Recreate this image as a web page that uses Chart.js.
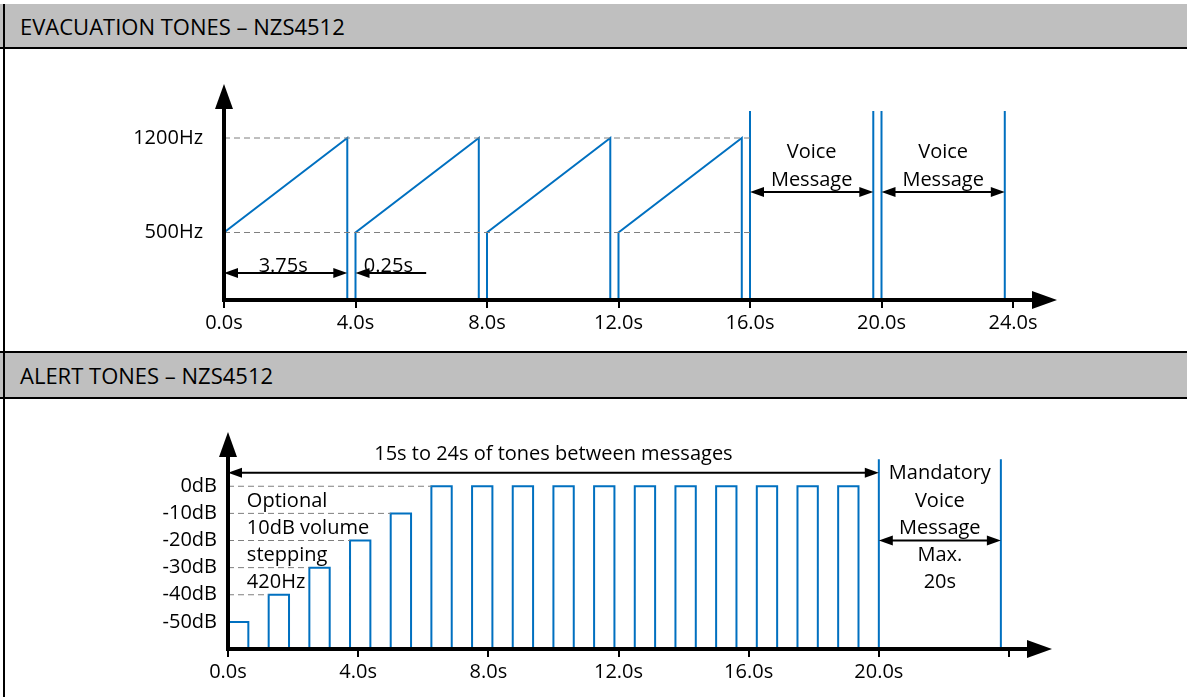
<!DOCTYPE html>
<html>
<head>
<meta charset="utf-8">
<script src="https://cdn.jsdelivr.net/npm/chart.js@4.4.1/dist/chart.umd.min.js"></script>
<style>
  body { margin: 0; background: #fff; font-family: "Open Sans", Lato, sans-serif; }
  #page { position: relative; width: 1187px; height: 697px; overflow: hidden; }
  .hdr { position: absolute; left: 0; width: 1187px; background: #bfbfbf; color: #000;
         font-size: 22px; padding-left: 20px; box-sizing: border-box; }
  .rule { position: absolute; left: 0; width: 1187px; height: 2px; background: #000; }
  .panel { position: absolute; left: 0; width: 1187px; }
  .panel canvas { display: block; }
  #leftBorder { position: absolute; left: 3px; top: 4px; width: 2px; height: 693px; background: #000; }
</style>
</head>
<body>
<div id="page">
  <div class="hdr" style="top:4px;height:43px;line-height:44px">EVACUATION TONES – NZS4512</div>
  <div class="rule" style="top:47px"></div>
  <div class="panel" style="top:49px;height:302px"><canvas id="evacChart" width="1187" height="302"></canvas></div>
  <div class="rule" style="top:351px"></div>
  <div class="hdr" style="top:353px;height:44px;line-height:45px">ALERT TONES – NZS4512</div>
  <div class="rule" style="top:397px"></div>
  <div class="panel" style="top:399px;height:298px"><canvas id="alertChart" width="1187" height="298"></canvas></div>
  <div id="leftBorder"></div>
</div>

<script>
const FONT = "'Open Sans', Lato, sans-serif";
const BLUE = "#0070c0";

// Evacuation tones: frequency sweep (Hz) against time (s)
const evacTimeTicks = [0, 4, 8, 12, 16, 20, 24];
const evacTimeLabels = ["0.0s", "4.0s", "8.0s", "12.0s", "16.0s", "20.0s", "24.0s"];
const evacFreqTicks = [500, 1200];
const evacFreqLabels = ["500Hz", "1200Hz"];
const sweepStart = [0, 4, 8, 12];
const sweepEnd = [3.75, 7.75, 11.75, 15.75];
const sweepLowHz = 500;
const sweepHighHz = 1200;
const evacGuideEnd = 16;
const evacVoiceLines = [16, 19.75, 20, 23.75];
const evacVoiceTopHz = 1400;

// Alert tones: stepped pulses (dB) against time (s)
const alertTimeTicks = [0, 4, 8, 12, 16, 20, 24];
const alertTimeLabels = ["0.0s", "4.0s", "8.0s", "12.0s", "16.0s", "20.0s", ""];
const alertLevelTicks = [0, -10, -20, -30, -40, -50];
const alertLevelLabels = ["0dB", "-10dB", "-20dB", "-30dB", "-40dB", "-50dB"];
const pulseStart = [0, 1.25, 2.5, 3.75, 5, 6.25, 7.5, 8.75, 10, 11.25, 12.5, 13.75, 15, 16.25, 17.5, 18.75];
const pulseEnd = [0.625, 1.875, 3.125, 4.375, 5.625, 6.875, 8.125, 9.375, 10.625, 11.875, 13.125, 14.375, 15.625, 16.875, 18.125, 19.375];
const pulseLevel = [-50, -40, -30, -20, -10, 0, 0, 0, 0, 0, 0, 0, 0, 0, 0, 0];
const alertFloorDb = -60;
const guideLevel = [0, -10, -20, -30, -40];
const guideEnd = [6.25, 5, 3.75, 2.5, 1.25];
const alertVoiceLines = [20, 23.75];
const alertVoiceTopDb = 10;

// dimension arrows and notes, in data units
const evacArrows = [
  { from: 0, to: 3.75, at: 200, both: true },
  { from: 6.15, to: 4, at: 200, both: false },
  { from: 16, to: 19.75, at: 800, both: true },
  { from: 20, to: 23.75, at: 800, both: true }
];
const evacNotes = [
  { x: 1.8, y: 259, text: "3.75s" },
  { x: 5.0, y: 259, text: "0.25s" },
  { x: 17.875, y: 1104, text: "Voice" },
  { x: 17.875, y: 896, text: "Message" },
  { x: 21.875, y: 1104, text: "Voice" },
  { x: 21.875, y: 896, text: "Message" }
];
const alertArrows = [
  { from: 0, to: 20, at: 5, both: true },
  { from: 20, to: 23.75, at: -20, both: true }
];
const alertNotes = [
  { x: 10, y: 12, text: "15s to 24s of tones between messages" },
  { x: 0.58, y: -5, text: "Optional", left: true },
  { x: 0.58, y: -15, text: "10dB volume", left: true },
  { x: 0.58, y: -25, text: "stepping", left: true },
  { x: 0.58, y: -35, text: "420Hz", left: true },
  { x: 21.875, y: 5, text: "Mandatory" },
  { x: 21.875, y: -5, text: "Voice" },
  { x: 21.875, y: -15, text: "Message" },
  { x: 21.875, y: -25, text: "Max." },
  { x: 21.875, y: -35, text: "20s" }
];

// build point lists for the library
const gap = x => ({ x: x, y: null });

const sweepPoints = [];
sweepStart.forEach((t, i) => {
  sweepPoints.push({ x: t, y: 0 }, { x: t, y: sweepLowHz }, { x: sweepEnd[i], y: sweepHighHz }, { x: sweepEnd[i], y: 0 }, gap(sweepEnd[i]));
});
const evacVoicePoints = [];
evacVoiceLines.forEach(t => evacVoicePoints.push({ x: t, y: 0 }, { x: t, y: evacVoiceTopHz }, gap(t)));
const evacGuidePoints = [];
evacFreqTicks.forEach(f => evacGuidePoints.push({ x: 0, y: f }, { x: evacGuideEnd, y: f }, gap(evacGuideEnd)));

const pulsePoints = [];
pulseStart.forEach((t, i) => {
  pulsePoints.push({ x: t, y: alertFloorDb }, { x: t, y: pulseLevel[i] }, { x: pulseEnd[i], y: pulseLevel[i] }, { x: pulseEnd[i], y: alertFloorDb }, gap(pulseEnd[i]));
});
const alertVoicePoints = [];
alertVoiceLines.forEach(t => alertVoicePoints.push({ x: t, y: alertFloorDb }, { x: t, y: alertVoiceTopDb }, gap(t)));
const alertGuidePoints = [];
guideLevel.forEach((l, i) => alertGuidePoints.push({ x: 0, y: l }, { x: guideEnd[i], y: l }, gap(guideEnd[i])));


//arrowheads, axes with arrows, dimension arrows and notes
function head(ctx, x, y, dx, dy, len, half) {
  ctx.beginPath();
  ctx.moveTo(x, y);
  ctx.lineTo(x - dx * len - dy * half, y - dy * len + dx * half);
  ctx.lineTo(x - dx * len + dy * half, y - dy * len - dx * half);
  ctx.closePath();
  ctx.fill();
}

const diagramPlugin = {
  id: "diagram",
  afterDatasetsDraw(chart, args, opts) {
    const { ctx, chartArea: a, scales: { x, y } } = chart;
    ctx.save();
    ctx.fillStyle = "#000";
    ctx.strokeStyle = "#000";

    // axes
    ctx.lineWidth = 4;
    ctx.beginPath();
    ctx.moveTo(a.left, a.bottom + 2);
    ctx.lineTo(a.left, a.top + 20);
    ctx.moveTo(a.left - 2, a.bottom);
    ctx.lineTo(a.right + opts.overrun - 20, a.bottom);
    ctx.stroke();
    head(ctx, a.left, a.top, 0, -1, 25, 9);
    head(ctx, a.right + opts.overrun, a.bottom, 1, 0, 25, 9);

    // dimension arrows
    ctx.lineWidth = 2;
    opts.arrows.forEach(r => {
      const x1 = x.getPixelForValue(r.from);
      const x2 = x.getPixelForValue(r.to);
      const py = y.getPixelForValue(r.at);
      const d = Math.sign(x2 - x1);
      ctx.beginPath();
      ctx.moveTo(r.both ? x1 + d * 8 : x1, py);
      ctx.lineTo(x2 - d * 8, py);
      ctx.stroke();
      head(ctx, x2, py, d, 0, 14, 5);
      if (r.both) head(ctx, x1, py, -d, 0, 14, 5);
    });

    // notes
    ctx.font = "20px " + FONT;
    ctx.textBaseline = "middle";
    opts.notes.forEach(n => {
      ctx.textAlign = n.left ? "left" : "center";
      ctx.fillText(n.text, x.getPixelForValue(n.x), y.getPixelForValue(n.y) + 1);
    });
    ctx.restore();
  }
};

function timeAxis(ticks, labels, max) {
  return {
    type: "linear",
    min: 0,
    max: max,
    afterBuildTicks: s => { s.ticks = ticks.map(v => ({ value: v })); },
    afterFit: s => { s.height = 51; },
    border: { display: false },
    grid: { display: true, drawOnChartArea: false, drawTicks: true, tickLength: 8, color: "#000", lineWidth: 2 },
    ticks: {
      autoSkip: false, maxRotation: 0, padding: 3, color: "#000",
      font: { family: FONT, size: 20 },
      callback: v => labels[ticks.indexOf(v)]
    }
  };
}

function valueAxis(ticks, labels, min, max, width, pad) {
  return {
    type: "linear",
    min: min,
    max: max,
    afterBuildTicks: s => { s.ticks = ticks.map(v => ({ value: v })); },
    afterFit: s => { s.width = width; },
    border: { display: false },
    grid: { display: false, drawTicks: false },
    ticks: {
      autoSkip: false, padding: pad, color: "#000",
      font: { family: FONT, size: 20 },
      callback: v => labels[ticks.indexOf(v)]
    }
  };
}

function baseOptions(padTop, padRight) {
  return {
    responsive: false,
    animation: false,
    events: [],
    layout: { padding: { top: padTop, right: padRight, left: 0, bottom: 0 } },
    elements: { point: { radius: 0 }, line: { tension: 0 } }
  };
}

const evacOpts = baseOptions(35, 174);
evacOpts.scales = {
  x: timeAxis(evacTimeTicks, evacTimeLabels, 24),
  y: valueAxis(evacFreqTicks, evacFreqLabels, 0, 1600, 224, 21)
};
evacOpts.plugins = {
  legend: { display: false },
  tooltip: { enabled: false },
  diagram: { arrows: evacArrows, notes: evacNotes, overrun: 44 }
};

new Chart(document.getElementById("evacChart"), {
  type: "scatter",
  data: {
    datasets: [
      { data: evacGuidePoints, showLine: true, borderColor: "#7f7f7f", borderWidth: 1, borderDash: [6, 4] },
      { data: sweepPoints, showLine: true, borderColor: BLUE, borderWidth: 2 },
      { data: evacVoicePoints, showLine: true, borderColor: BLUE, borderWidth: 2 }
    ]
  },
  options: evacOpts,
  plugins: [diagramPlugin]
});

const alertOpts = baseOptions(33, 178);
alertOpts.scales = {
  x: timeAxis(alertTimeTicks, alertTimeLabels, 24),
  y: valueAxis(alertLevelTicks, alertLevelLabels, alertFloorDb, 20, 228, 11)
};
alertOpts.scales.x.afterFit = s => { s.height = 48; };
alertOpts.plugins = {
  legend: { display: false },
  tooltip: { enabled: false },
  diagram: { arrows: alertArrows, notes: alertNotes, overrun: 43 }
};

new Chart(document.getElementById("alertChart"), {
  type: "scatter",
  data: {
    datasets: [
      { data: alertGuidePoints, showLine: true, borderColor: "#7f7f7f", borderWidth: 1, borderDash: [6, 4] },
      { data: pulsePoints, showLine: true, borderColor: BLUE, borderWidth: 2 },
      { data: alertVoicePoints, showLine: true, borderColor: BLUE, borderWidth: 2 }
    ]
  },
  options: alertOpts,
  plugins: [diagramPlugin]
});
</script>
</body>
</html>
